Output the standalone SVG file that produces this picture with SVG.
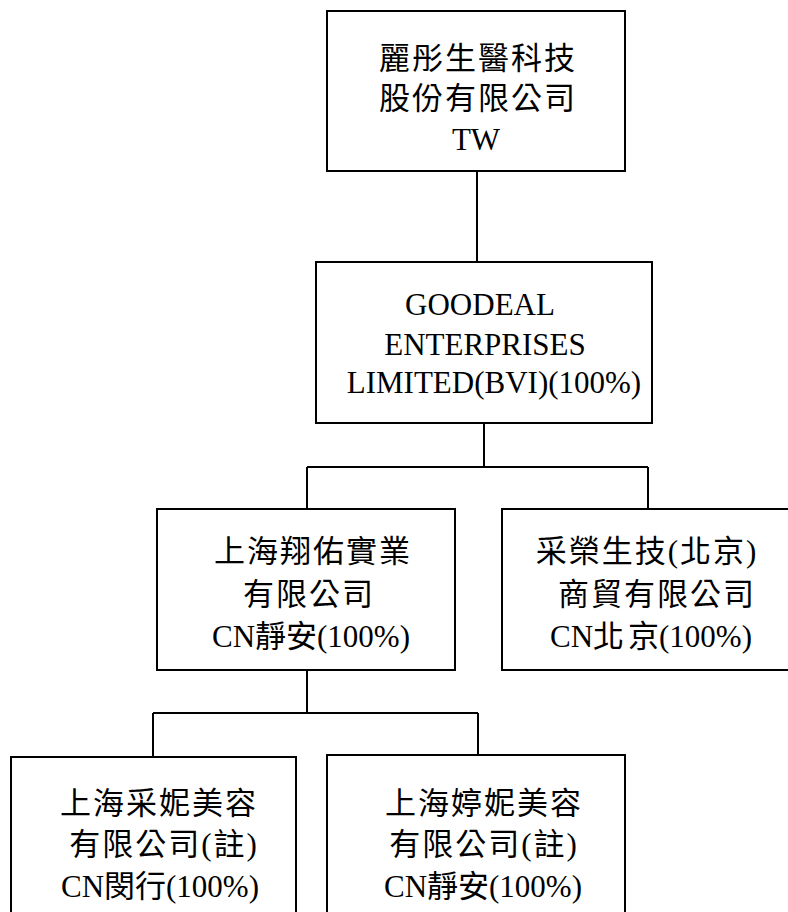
<svg xmlns="http://www.w3.org/2000/svg" width="788" height="912" viewBox="0 0 788 912">
<style>
.box{fill:#fff;stroke:#000;stroke-width:2}
.ln{stroke:#000;stroke-width:2;fill:none}
text{font-family:"Liberation Serif","Noto Sans CJK TC",serif;font-size:31px;fill:#000;text-anchor:middle}
.cjk{letter-spacing:2px}
</style>
<rect width="788" height="912" fill="#fff"/>
<g id="connectors">
<path class="ln" d="M477,171V262"/>
<path class="ln" d="M484,423V467M307,467H648M307,467V509M648,467V509"/>
<path class="ln" d="M307,670V713M153,713H478M153,713V757M478,713V755"/>
</g>
<g id="n_tw">
<rect class="box" x="327" y="11" width="298" height="160"/>
<text class="cjk" x="478" y="69">麗彤生醫科技</text>
<text class="cjk" x="478" y="109">股份有限公司</text>
<text x="476" y="150">TW</text>
</g>
<g id="n_goodeal">
<rect class="box" x="316" y="262" width="336" height="161"/>
<text x="480" y="315">GOODEAL</text>
<text x="485" y="355">ENTERPRISES</text>
<text x="494" y="393">LIMITED(BVI)(100%)</text>
</g>
<g id="n_xiangyou">
<rect class="box" x="157" y="509" width="298" height="161"/>
<text class="cjk" x="313" y="562">上海翔佑實業</text>
<text class="cjk" x="309" y="605">有限公司</text>
<text x="311" y="647">CN靜安(100%)</text>
</g>
<g id="n_cairong">
<rect class="box" x="502" y="509" width="292" height="161"/>
<text class="cjk" x="647" y="562">采榮生技(北京)</text>
<text class="cjk" x="657" y="605">商貿有限公司</text>
<text x="651" y="647">CN北<tspan dx="4">京</tspan>(100%)</text>
</g>
<g id="n_caini">
<rect class="box" x="11" y="757" width="285" height="170"/>
<text class="cjk" x="159" y="814">上海采妮美容</text>
<text class="cjk" x="164" y="855">有限公司(註)</text>
<text x="160" y="897">CN閔行(100%)</text>
</g>
<g id="n_tingni">
<rect class="box" x="327" y="755" width="298" height="170"/>
<text class="cjk" x="484" y="814">上海婷妮美容</text>
<text class="cjk" x="484" y="855">有限公司(註)</text>
<text x="483" y="897">CN靜安(100%)</text>
</g>
</svg>
